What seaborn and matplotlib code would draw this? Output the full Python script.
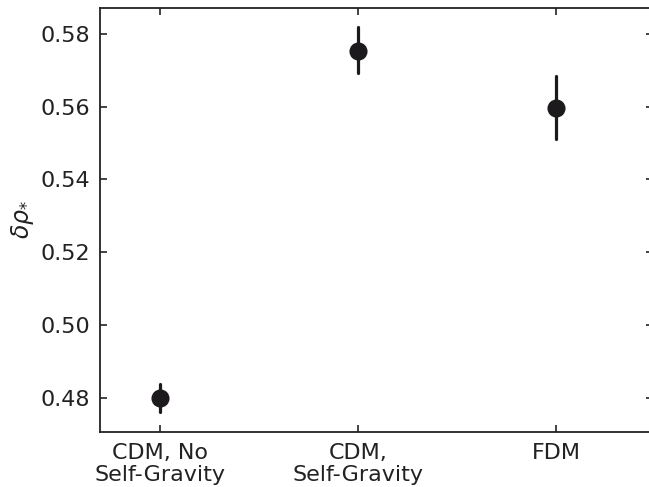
import matplotlib
matplotlib.use("Agg")
import matplotlib.pyplot as plt
import seaborn as sns
import pandas as pd

categories = ["CDM, No\nSelf-Gravity", "CDM,\nSelf-Gravity", "FDM"]
center = [0.4800, 0.5753, 0.5596]
lower = [0.4762, 0.5693, 0.5510]
upper = [0.4838, 0.5817, 0.5685]
yticks = [0.48, 0.50, 0.52, 0.54, 0.56, 0.58]

rows = []
for c, lo, mid, hi in zip(categories, lower, center, upper):
    for v in (lo, mid, hi):
        rows.append({"model": c, "value": v})
df = pd.DataFrame(rows)

sns.set_style("ticks")
plt.rcParams["font.family"] = ["DejaVu Sans"]

fig = plt.figure(figsize=(6.49, 4.87), dpi=100)
ax = fig.add_axes([0.154, 0.113, 0.852, 0.871])

sns.pointplot(data=df, x="model", y="value", order=categories,
              estimator="median", errorbar=("pi", 100),
              linestyle="none", color="#1c1a1c", markersize=11,
              err_kws={"linewidth": 2.3}, ax=ax)

ax.set_xlim(-0.305, 2.488)
ax.set_ylim(0.4707, 0.5871)
ax.set_yticks(yticks)
ax.set_yticklabels([f"{t:.2f}" for t in yticks])
ax.set_xlabel("")
ax.set_ylabel(r"$\delta\rho_{*}$", fontsize=17, color="#222222", labelpad=3)
ax.tick_params(direction="in", top=True, right=True, labelsize=16,
               length=5, width=1.2, colors="#222222", pad=7)
for lab in ax.get_xticklabels():
    lab.set_linespacing(1.1)
ax.tick_params(axis="x", pad=8)
for s in ax.spines.values():
    s.set_visible(True)
    s.set_linewidth(1.3)
    s.set_color("#222222")

fig.savefig("out.png", dpi=100)
